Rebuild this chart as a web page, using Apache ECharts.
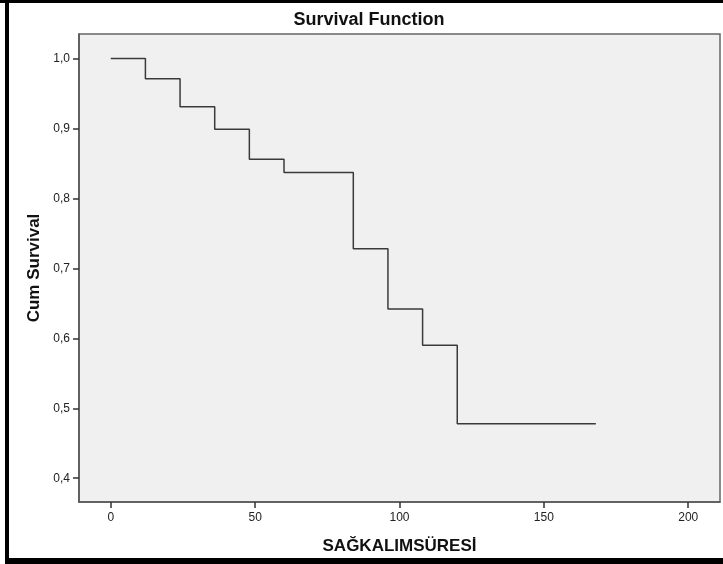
<!DOCTYPE html>
<html>
<head>
<meta charset="utf-8">
<script src="https://cdn.jsdelivr.net/npm/echarts@6/dist/echarts.min.js"></script>
<style>
html,body{margin:0;padding:0;background:#fff;}
#chart{width:723px;height:564px;}
</style>
</head>
<body>
<div id="chart"></div>
<script>
// Kaplan-Meier survival estimates
var times = [0, 12, 24, 36, 48, 60, 84, 96, 108, 120, 168];
var survival = [1.0, 0.971, 0.931, 0.899, 0.856, 0.837, 0.728, 0.642, 0.590, 0.478, 0.478];
var xTicks = [0, 50, 100, 150, 200];
var yTicks = [0.4, 0.5, 0.6, 0.7, 0.8, 0.9, 1.0];

var FONT = 'Liberation Sans, Arial, sans-serif';
var chart = echarts.init(document.getElementById('chart'), null, {renderer: 'canvas'});
var points = times.map(function (t, i) { return [t, survival[i]]; });

chart.setOption({
  backgroundColor: '#ffffff',
  animation: false,
  title: {
    text: 'Survival Function',
    left: 369,
    top: 11,
    padding: 0,
    textAlign: 'center',
    textStyle: {fontFamily: FONT, fontSize: 18, fontWeight: 'bold', color: '#111'}
  },
  grid: {
    left: 79, top: 34, width: 641, height: 468,
    show: true,
    backgroundColor: '#f0f0f0',
    borderColor: '#666666',
    borderWidth: 1.5
  },
  xAxis: {
    type: 'value',
    min: -11, max: 211,
    name: 'SAĞKALIMSÜRESİ',
    nameLocation: 'middle',
    nameGap: 36,
    nameTextStyle: {fontFamily: FONT, fontSize: 17, fontWeight: 'bold', color: '#111'},
    axisLine: {show: true, onZero: false, lineStyle: {color: '#555', width: 1.5}},
    axisTick: {show: true, length: 6, customValues: xTicks, lineStyle: {color: '#333', width: 1.5}},
    axisLabel: {customValues: xTicks, margin: 10, fontFamily: FONT, fontSize: 12, color: '#222'},
    splitLine: {show: false}
  },
  yAxis: {
    type: 'value',
    min: 0.366, max: 1.035,
    name: 'Cum Survival',
    nameLocation: 'middle',
    nameRotate: 90,
    nameGap: 36,
    nameTextStyle: {fontFamily: FONT, fontSize: 17, fontWeight: 'bold', color: '#111'},
    axisLine: {show: true, onZero: false, lineStyle: {color: '#555', width: 1.5}},
    axisTick: {show: true, length: 6, customValues: yTicks, lineStyle: {color: '#333', width: 1.5}},
    axisLabel: {
      customValues: yTicks, margin: 9, fontFamily: FONT, fontSize: 12, color: '#222',
      formatter: function (v) { return v.toFixed(1).replace('.', ','); }
    },
    splitLine: {show: false}
  },
  series: [{
    type: 'line',
    step: 'end',
    data: points,
    showSymbol: false,
    symbol: 'none',
    lineStyle: {color: '#3a3a3a', width: 1.5},
    z: 3
  }],
  graphic: [
    {type: 'rect', shape: {x: 0, y: 0, width: 723, height: 3}, style: {fill: '#000'}},
    {type: 'rect', shape: {x: 5, y: 0, width: 4, height: 564}, style: {fill: '#000'}},
    {type: 'rect', shape: {x: 5, y: 558, width: 718, height: 6}, style: {fill: '#000'}}
  ]
});
</script>
</body>
</html>
